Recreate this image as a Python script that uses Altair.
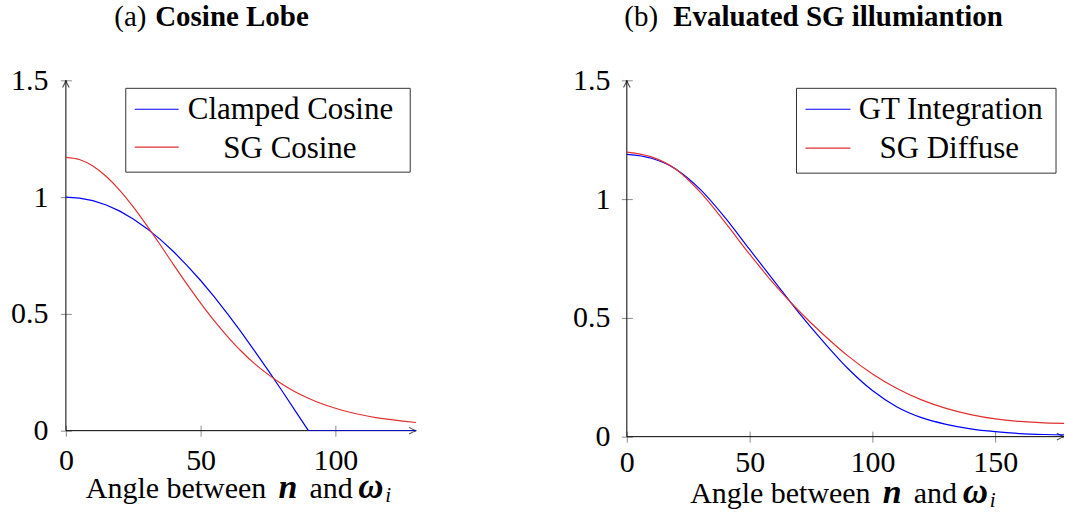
import altair as alt
import pandas as pd

FONT = "Liberation Serif"
BLUE = "#0000ff"
RED = "#e03030"
TICK_GRAY = "#8c8c8c"

# ---- (a) Cosine Lobe: clamped cosine and its spherical-Gaussian fit ----
angle_a = [0, 5, 10, 15, 20, 25, 30, 35, 40, 45, 50, 55, 60, 65, 70,
           75, 80, 85, 90, 95, 100, 105, 110, 115, 120, 125, 130]
clamped_cosine = [1.000, 0.996, 0.985, 0.966, 0.940, 0.906, 0.866, 0.819, 0.766,
                  0.707, 0.643, 0.574, 0.500, 0.423, 0.342, 0.259, 0.174, 0.087,
                  0.000, 0.000, 0.000, 0.000, 0.000, 0.000, 0.000, 0.000, 0.000]
sg_cosine = [1.170, 1.161, 1.133, 1.088, 1.029, 0.958, 0.879, 0.796, 0.710,
             0.626, 0.546, 0.471, 0.403, 0.341, 0.287, 0.241, 0.201, 0.167,
             0.139, 0.115, 0.096, 0.080, 0.067, 0.056, 0.048, 0.041, 0.035]
series_a = ["Clamped Cosine", "SG Cosine"]

# ---- (b) Evaluated SG illumination ----
angle_b = [0, 10, 20, 30, 40, 50, 60, 70, 80, 90,
           100, 110, 120, 130, 140, 150, 160, 170, 180]
gt_integration = [1.188, 1.172, 1.126, 1.040, 0.922, 0.788, 0.655, 0.522, 0.400, 0.287,
                  0.194, 0.125, 0.080, 0.052, 0.033, 0.021, 0.013, 0.009, 0.007]
sg_diffuse = [1.198, 1.178, 1.126, 1.028, 0.902, 0.768, 0.642, 0.530, 0.430, 0.340,
              0.264, 0.203, 0.155, 0.119, 0.093, 0.075, 0.064, 0.058, 0.056]
series_b = ["GT Integration", "SG Diffuse"]

y_ticks = [0, 0.5, 1, 1.5]
x_ticks_a = [0, 50, 100]
x_ticks_b = [0, 50, 100, 150]

# open arrow head, tip at the symbol centre, pointing along +x
ARROW = "M -1.5 -0.7 Q -0.5 -0.12 0 0 Q -0.5 0.12 -1.5 0.7"


def text_layer(text, x, y, size=30, weight="normal", style="normal",
               align="left", baseline="alphabetic"):
    return alt.Chart(pd.DataFrame({"t": [text]})).mark_text(
        font=FONT, fontSize=size, fontWeight=weight, fontStyle=style,
        align=align, baseline=baseline, color="black"
    ).encode(text="t:N", x=alt.value(x), y=alt.value(y))


def panel(curves, names, x_domain, x_end, x_ticks, width, height,
          pad_x, pad_y, tag, heading, tag_x, heading_x, xlabel_dy, legend):
    xs = alt.Scale(domain=x_domain, nice=False, zero=False)
    ys = alt.Scale(domain=[0, 1.5], nice=False)
    common = dict(title=None, domain=False, grid=False, offset=-5.5, tickSize=11,
                  tickColor=TICK_GRAY, tickWidth=1, labelFont=FONT,
                  labelFontSize=30, labelColor="black", labelFlush=False,
                  labelOverlap=False)
    x_axis = alt.Axis(values=x_ticks, labelPadding=pad_x, **common)
    y_axis = alt.Axis(values=y_ticks, format=".1~f", labelPadding=pad_y, **common)

    def X(field):
        return alt.X(field, type="quantitative", scale=xs, axis=x_axis)

    def Y(field):
        return alt.Y(field, type="quantitative", scale=ys, axis=y_axis)

    layers = []
    # axis lines with arrow heads
    layers.append(alt.Chart(pd.DataFrame({"a0": [0], "a1": [x_end], "v": [0]}))
                  .mark_rule(color="black", strokeWidth=1)
                  .encode(x=X("a0"), x2="a1", y=Y("v")))
    layers.append(alt.Chart(pd.DataFrame({"a": [0], "v0": [0], "v1": [1.5]}))
                  .mark_rule(color="black", strokeWidth=1)
                  .encode(x=X("a"), y=Y("v0"), y2="v1"))
    layers.append(alt.Chart(pd.DataFrame({"a": [x_end], "v": [0]}))
                  .mark_point(shape=ARROW, size=90, color="black", strokeWidth=1.1)
                  .encode(x=X("a"), y=Y("v")))
    layers.append(alt.Chart(pd.DataFrame({"a": [0], "v": [1.5]}))
                  .mark_point(shape=ARROW, size=90, angle=270, color="black",
                              strokeWidth=1.1)
                  .encode(x=X("a"), y=Y("v")))

    for (xv, yv, color, interp) in curves:
        df = pd.DataFrame({"angle": xv, "value": yv})
        layers.append(alt.Chart(df).mark_line(color=color, strokeWidth=1.2,
                                              interpolate=interp, clip=True)
                      .encode(x=X("angle"), y=Y("value")))

    # legend box
    bx0, bx1, by0, by1, lx0, lx1, ly, tx, ty = legend
    layers.append(alt.Chart(pd.DataFrame({"t": [0]})).mark_rect(
        fillOpacity=0, stroke="#333333", strokeWidth=1
    ).encode(x=alt.value(bx0), x2=alt.value(bx1), y=alt.value(by0), y2=alt.value(by1)))
    for i, name in enumerate(names):
        color = curves[i][2]
        layers.append(alt.Chart(pd.DataFrame({"t": [name]})).mark_rule(
            color=color, strokeWidth=1.2
        ).encode(x=alt.value(lx0), x2=alt.value(lx1), y=alt.value(ly[i])))
        layers.append(text_layer(name, tx[i], ty[i], size=31, align="center"))

    # heading: "(x)" in roman, caption text in bold
    layers.append(text_layer(tag, tag_x, -54, size=29))
    layers.append(text_layer(heading, heading_x, -54, size=29, weight="bold"))

    # x axis title: Angle between n and omega_i
    cx = width / 2
    by = height + xlabel_dy
    layers.append(text_layer("Angle between", cx - 155.5, by))
    layers.append(text_layer("n", cx + 37.5, by, size=34, weight="bold", style="italic"))
    layers.append(text_layer("and", cx + 68.5, by))
    layers.append(text_layer("ω", cx + 117.5, by, size=35, weight="bold", style="italic"))
    layers.append(text_layer("i", cx + 144.5, by + 4, size=21, style="italic"))

    return alt.layer(*layers).properties(width=width, height=height)


left = panel(
    curves=[(angle_a, clamped_cosine, BLUE, "linear"),
            (angle_a, sg_cosine, RED, "monotone")],
    names=series_a, x_domain=[0, 130], x_end=130, x_ticks=x_ticks_a,
    width=351, height=351, pad_x=9.5, pad_y=12.5,
    tag="(a)", heading="Cosine Lobe", tag_x=48.5, heading_x=89.5, xlabel_dy=67.5,
    legend=(60, 345, 8, 92, 69, 113, [29, 67], [225, 224.5], [39, 78]),
)

right = panel(
    curves=[(angle_b, gt_integration, BLUE, "monotone"),
            (angle_b, sg_diffuse, RED, "monotone")],
    names=series_b, x_domain=[0, 178], x_end=178, x_ticks=x_ticks_b,
    width=438, height=357, pad_x=5.2, pad_y=11.5,
    tag="(b)", heading="Evaluated SG illumiantion", tag_x=-2.5, heading_x=46.5,
    xlabel_dy=66,
    legend=(170, 430, 8, 93, 179, 224, [29, 68], [324.5, 323], [39, 78]),
)

chart = alt.hconcat(left, right, spacing=153).properties(
    padding={"left": 10, "top": 3, "right": 0, "bottom": 0},
    background="white",
).configure_view(stroke=None)

chart.save("out.html", embed_options={"renderer": "svg", "actions": False})
